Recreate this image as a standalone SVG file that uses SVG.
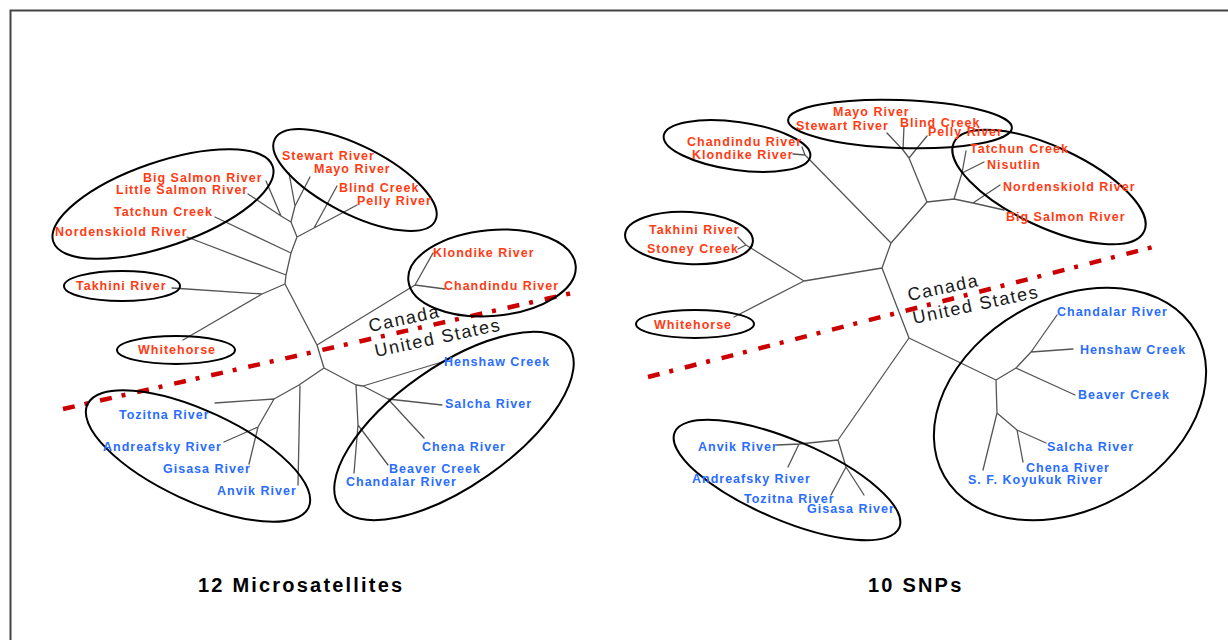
<svg xmlns="http://www.w3.org/2000/svg" width="1228" height="640" viewBox="0 0 1228 640">
<style>
.lbl{font-family:"Liberation Sans",Arial,sans-serif;font-weight:bold;font-size:12.5px;letter-spacing:1px}
.r{fill:#ff3c14}
.b{fill:#2a6dff}
.br{fill:none;stroke:#555;stroke-width:1.3;stroke-linecap:round;stroke-linejoin:round}
.ell{fill:none;stroke:#000;stroke-width:2}
.bd{fill:none;stroke:#cc0000;stroke-width:4.5;stroke-dasharray:12 10 4 12}
.cty{font-family:"Liberation Sans",Arial,sans-serif;font-size:18px;letter-spacing:1.6px;fill:#1a1a1a}
.ttl{font-family:"Liberation Sans",Arial,sans-serif;font-weight:bold;font-size:20px;letter-spacing:2.2px;fill:#000}
</style>
<rect width="1228" height="640" fill="#fff"/>
<path d="M10.5 640 V10.5 H1228" fill="none" stroke="#444" stroke-width="2"/>

<g id="connectors">
<path class="br" d="M297 237 L291 222 L281 216 L266 181 M281 216 L248 194 M291 222 L295 206 L289 173 M295 206 L310 177 M297 237 L314 228 L337 186 M314 228 L357 205 M297 237 L291 253 L286 275 L285 284 M291 253 L215 217 M286 275 L187 237 M285 284 L262 294 L172 288 M262 294 L183 340 M285 284 L317 345 L415 285 L433 253 M415 285 L445 289 M317 345 L324 368 L299 385 M300 386 L298 485 M299 385 L274 399 L215 403 M274 399 L258 427 L224 442 M258 427 L249 464 M324 368 L356 385 L363 386 L442 362 M363 386 L388 399 L442 405 M388 399 L424 438 M356 385 L358 425 L388 465 M358 425 L354 473"/>
<path class="br" d="M903 150 L887 133 M903 150 L904 126 M909 158 L903 150 M909 158 L927 136 M909 158 L927 202 L954 199 L962 173 L966 151 M962 173 L984 162 M954 199 L973 203 L1000 185 M973 203 L1004 210 M927 202 L891 243 L805 155 L802 147 M805 155 L793 154 M891 243 L882 268 L804 281 L746 245 L738 237 M746 245 L738 249 M804 281 L734 317 M882 268 L909 338 L838 440 L799 444 L777 445 M799 444 L788 467 M838 440 L846 467 L831 495 M846 467 L864 495 M909 338 L996 380 L1016 368 L1075 395 M1016 368 L1031 352 L1073 349 M1031 352 L1057 315 M996 380 L997 413 L1017 430 L1046 443 M1017 430 L1023 462 M997 413 L983 470"/>
</g>

<g id="borders">
<line class="bd" x1="63" y1="409" x2="581" y2="291"/>
<line class="bd" x1="648" y1="377" x2="1161" y2="245"/>
<text class="cty" transform="translate(370,332) rotate(-12)">Canada</text>
<text class="cty" transform="translate(376,357) rotate(-12)">United States</text>
<text class="cty" transform="translate(909,301) rotate(-12)">Canada</text>
<text class="cty" transform="translate(914,324) rotate(-12)">United States</text>
</g>

<g id="groups">
<ellipse class="ell" cx="163" cy="204" rx="116" ry="42" transform="rotate(-19 163 204)"/>
<ellipse class="ell" cx="355" cy="180" rx="90" ry="34" transform="rotate(27 355 180)"/>
<ellipse class="ell" cx="492" cy="273" rx="84" ry="43" transform="rotate(-5 492 273)"/>
<ellipse class="ell" cx="122" cy="286" rx="58" ry="15"/>
<ellipse class="ell" cx="176" cy="350" rx="59" ry="14"/>
<ellipse class="ell" cx="198" cy="456" rx="122" ry="45" transform="rotate(25 198 456)"/>
<ellipse class="ell" cx="454" cy="426" rx="140" ry="60" transform="rotate(-35 454 426)"/>
<ellipse class="ell" cx="900" cy="124" rx="112" ry="24" transform="rotate(2 900 124)"/>
<ellipse class="ell" cx="737" cy="146" rx="74" ry="24" transform="rotate(8 737 146)"/>
<ellipse class="ell" cx="1049" cy="187" rx="105" ry="40" transform="rotate(25 1049 187)"/>
<ellipse class="ell" cx="689" cy="238" rx="64" ry="26" transform="rotate(3 689 238)"/>
<ellipse class="ell" cx="695" cy="324" rx="59" ry="14"/>
<ellipse class="ell" cx="787" cy="480" rx="122" ry="40" transform="rotate(23 787 480)"/>
<ellipse class="ell" cx="1070" cy="404" rx="145" ry="105" transform="rotate(-30 1070 404)"/>
</g>

<g id="ms-stewart"><text class="lbl r" x="282" y="160">Stewart River</text></g>
<g id="ms-mayo"><text class="lbl r" x="314" y="173">Mayo River</text></g>
<g id="ms-bigsalmon"><text class="lbl r" x="143" y="182">Big Salmon River</text></g>
<g id="ms-littlesalmon"><text class="lbl r" x="116" y="194">Little Salmon River</text></g>
<g id="ms-blind"><text class="lbl r" x="339" y="192">Blind Creek</text></g>
<g id="ms-pelly"><text class="lbl r" x="357" y="205">Pelly River</text></g>
<g id="ms-tatchun"><text class="lbl r" x="114" y="216">Tatchun Creek</text></g>
<g id="ms-nordenskiold"><text class="lbl r" x="55" y="236">Nordenskiold River</text></g>
<g id="ms-klondike"><text class="lbl r" x="433" y="257">Klondike River</text></g>
<g id="ms-takhini"><text class="lbl r" x="76" y="290">Takhini River</text></g>
<g id="ms-chandindu"><text class="lbl r" x="444" y="290">Chandindu River</text></g>
<g id="ms-whitehorse"><text class="lbl r" x="138" y="354">Whitehorse</text></g>
<g id="ms-henshaw"><text class="lbl b" x="444" y="366">Henshaw Creek</text></g>
<g id="ms-salcha"><text class="lbl b" x="445" y="408">Salcha River</text></g>
<g id="ms-tozitna"><text class="lbl b" x="119" y="419">Tozitna River</text></g>
<g id="ms-andreafsky"><text class="lbl b" x="103" y="451">Andreafsky River</text></g>
<g id="ms-chena"><text class="lbl b" x="422" y="451">Chena River</text></g>
<g id="ms-gisasa"><text class="lbl b" x="163" y="473">Gisasa River</text></g>
<g id="ms-beaver"><text class="lbl b" x="389" y="473">Beaver Creek</text></g>
<g id="ms-chandalar"><text class="lbl b" x="346" y="486">Chandalar River</text></g>
<g id="ms-anvik"><text class="lbl b" x="217" y="495">Anvik River</text></g>

<g id="snp-mayo"><text class="lbl r" x="833" y="116">Mayo River</text></g>
<g id="snp-stewart"><text class="lbl r" x="796" y="130">Stewart River</text></g>
<g id="snp-blind"><text class="lbl r" x="900" y="127">Blind Creek</text></g>
<g id="snp-pelly"><text class="lbl r" x="928" y="136">Pelly River</text></g>
<g id="snp-chandindu"><text class="lbl r" x="687" y="146">Chandindu River</text></g>
<g id="snp-klondike"><text class="lbl r" x="692" y="159">Klondike River</text></g>
<g id="snp-tatchun"><text class="lbl r" x="970" y="153">Tatchun Creek</text></g>
<g id="snp-nisutlin"><text class="lbl r" x="987" y="169">Nisutlin</text></g>
<g id="snp-nordenskiold"><text class="lbl r" x="1003" y="191">Nordenskiold River</text></g>
<g id="snp-bigsalmon"><text class="lbl r" x="1006" y="221">Big Salmon River</text></g>
<g id="snp-takhini"><text class="lbl r" x="649" y="234">Takhini River</text></g>
<g id="snp-stoney"><text class="lbl r" x="647" y="253">Stoney Creek</text></g>
<g id="snp-whitehorse"><text class="lbl r" x="654" y="329">Whitehorse</text></g>
<g id="snp-chandalar"><text class="lbl b" x="1057" y="316">Chandalar River</text></g>
<g id="snp-henshaw"><text class="lbl b" x="1080" y="354">Henshaw Creek</text></g>
<g id="snp-beaver"><text class="lbl b" x="1078" y="399">Beaver Creek</text></g>
<g id="snp-anvik"><text class="lbl b" x="698" y="451">Anvik River</text></g>
<g id="snp-salcha"><text class="lbl b" x="1047" y="451">Salcha River</text></g>
<g id="snp-chena"><text class="lbl b" x="1026" y="472">Chena River</text></g>
<g id="snp-koyukuk"><text class="lbl b" x="968" y="484">S. F. Koyukuk River</text></g>
<g id="snp-andreafsky"><text class="lbl b" x="692" y="483">Andreafsky River</text></g>
<g id="snp-tozitna"><text class="lbl b" x="744" y="503">Tozitna River</text></g>
<g id="snp-gisasa"><text class="lbl b" x="807" y="513">Gisasa River</text></g>

<g id="titles">
<text class="ttl" x="198" y="592">12 Microsatellites</text>
<text class="ttl" x="868" y="592">10 SNPs</text>
</g>
</svg>
